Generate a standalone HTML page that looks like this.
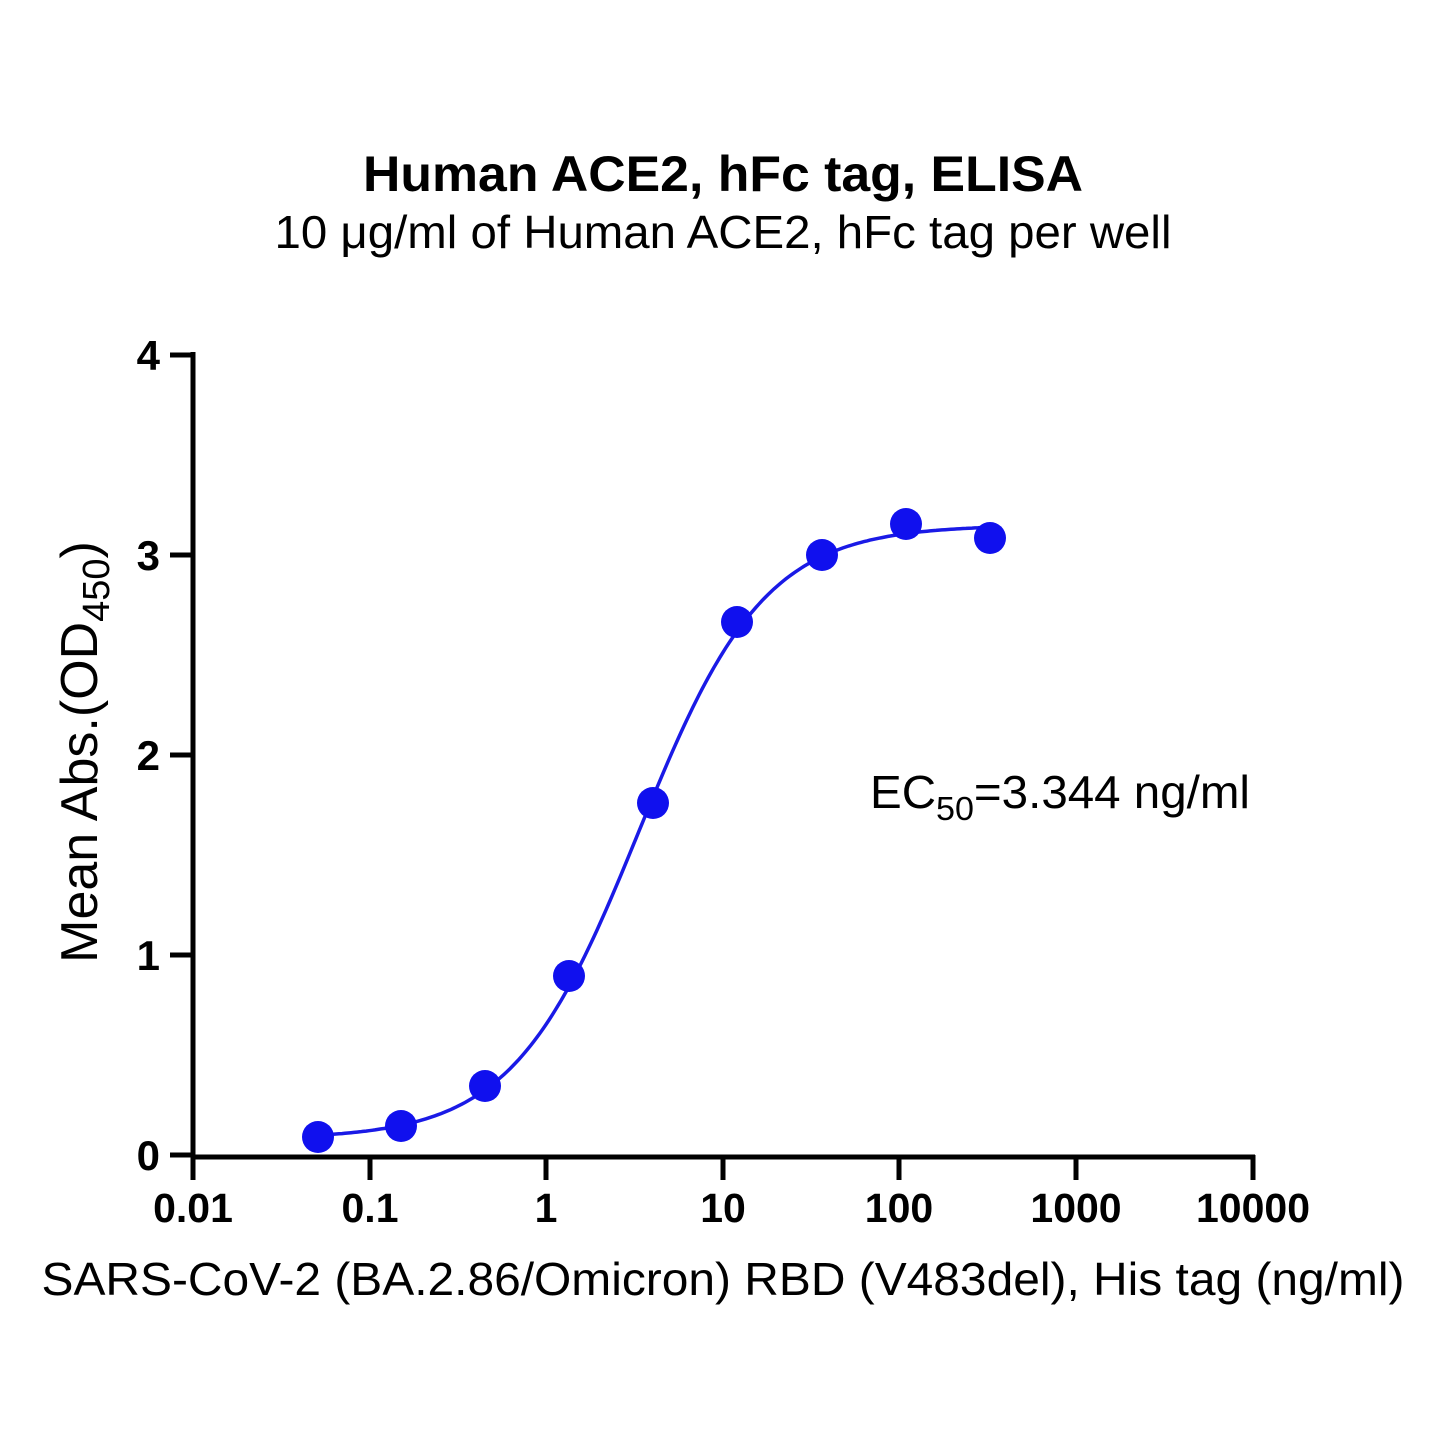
<!DOCTYPE html>
<html><head><meta charset="utf-8"><style>
body{margin:0;background:#fff}
svg text{font-family:"Liberation Sans",Arial,sans-serif}
</style></head><body>
<svg id="s" width="1445" height="1445" viewBox="0 0 1445 1445" xmlns="http://www.w3.org/2000/svg">
<rect width="1445" height="1445" fill="#fff"/>
<text x="723" y="191" text-anchor="middle" font-size="50" font-weight="bold" textLength="720" lengthAdjust="spacingAndGlyphs">Human ACE2, hFc tag, ELISA</text>
<text x="723" y="248" text-anchor="middle" font-size="46" textLength="897" lengthAdjust="spacingAndGlyphs">10 μg/ml of Human ACE2, hFc tag per well</text>
<g stroke="#000" stroke-width="5" fill="none">
<path d="M193,352 V1157 H1255"/>
<path d="M170,355 H193 M170,555 H193 M170,755 H193 M170,955 H193 M170,1155 H193"/>
<path d="M193,1155 V1180 M370,1155 V1180 M546,1155 V1180 M723,1155 V1180 M899,1155 V1180 M1076,1155 V1180 M1253,1155 V1180"/>
</g>
<g font-size="42" font-weight="bold" text-anchor="end">
<text x="160" y="370">4</text><text x="160" y="570">3</text><text x="160" y="770">2</text><text x="160" y="970">1</text><text x="160" y="1170">0</text>
</g>
<g font-size="41" font-weight="bold" text-anchor="middle">
<text x="193" y="1222">0.01</text><text x="370" y="1222">0.1</text><text x="546" y="1222">1</text><text x="723" y="1222">10</text><text x="899" y="1222">100</text><text x="1076" y="1222">1000</text><text x="1253" y="1222">10000</text>
</g>
<text x="723" y="1295" text-anchor="middle" font-size="46" textLength="1363" lengthAdjust="spacingAndGlyphs">SARS-CoV-2 (BA.2.86/Omicron) RBD (V483del), His tag (ng/ml)</text>
<text transform="translate(97,752) rotate(-90)" text-anchor="middle" font-size="52">Mean Abs.(OD<tspan font-size="38" dy="12">450</tspan><tspan dy="-12">)</tspan></text>
<text x="870" y="808" font-size="46" textLength="380" lengthAdjust="spacingAndGlyphs">EC<tspan font-size="33" dy="12">50</tspan><tspan dy="-12">=3.344 ng/ml</tspan></text>
<path id="c" fill="none" stroke="#1a1ae6" stroke-width="3.5" d=""/>
<g fill="#1010ee">
<circle cx="318" cy="1137" r="16"/><circle cx="401" cy="1126" r="16"/><circle cx="485" cy="1086" r="16"/><circle cx="569" cy="976" r="16"/><circle cx="653" cy="803" r="16"/><circle cx="737" cy="622" r="16"/><circle cx="822" cy="555" r="16"/><circle cx="906" cy="524" r="16"/><circle cx="990" cy="538" r="16"/>
</g>
</svg>
<script>
var d="",b=0.08,t=3.15,lec=Math.log10(3.344),h=1.22;
for(var px=318;px<=990;px+=3){var lx=(px-546)/176.7;var y=b+(t-b)/(1+Math.pow(10,(lec-lx)*h));d+=(d?"L":"M")+px+","+(1155-200*y).toFixed(1);}
document.getElementById("c").setAttribute("d",d);
</script>
</body></html>
